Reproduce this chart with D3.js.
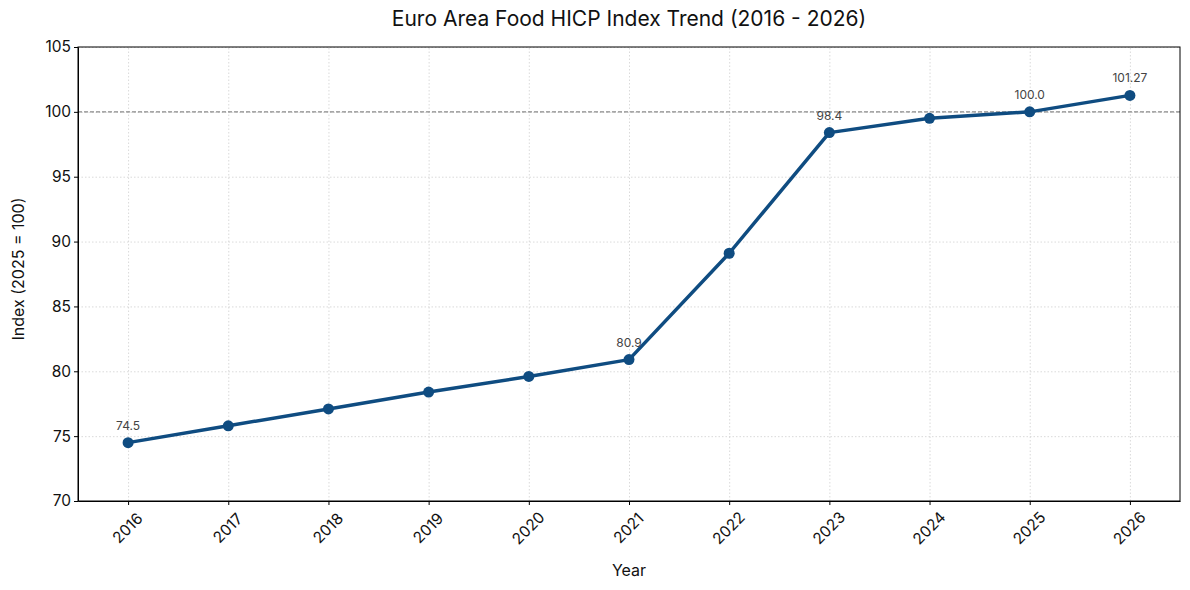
<!DOCTYPE html>
<html lang="en">
<head>
    <meta charset="UTF-8">
    <title>Euro Area Food HICP Index Trend</title>
    <script src="https://d3js.org/d3.v7.min.js"></script>
    <style>
        body { margin: 0; background: white; overflow: hidden; }
        svg { display: block; }
        svg text { font-family: Inter, "Noto Sans", sans-serif; }
        .grid line { stroke: #d0d0d0; stroke-dasharray: 1.5,2; stroke-width: 0.8; }
        .grid .domain { display: none; }
    </style>
</head>
<body>
    <div id="chart"></div>
    <script>
        // Data
        const years = [2016, 2017, 2018, 2019, 2020, 2021, 2022, 2023, 2024, 2025, 2026];
        const indexValues = [74.5, 75.8, 77.1, 78.4, 79.6, 80.9, 89.1, 98.4, 99.5, 100.0, 101.27];
        const labelledYears = [2016, 2021, 2023, 2025, 2026];
        const labelTexts = ['74.5', '80.9', '98.4', '100.0', '101.27'];
        const yTicks = [70, 75, 80, 85, 90, 95, 100, 105];

        const width = 1190, height = 590;
        const margin = {top: 47, right: 10, bottom: 89, left: 78};
        const innerWidth = width - margin.left - margin.right;
        const innerHeight = height - margin.top - margin.bottom;

        const data = years.map((y, i) => ({year: y, value: indexValues[i]}));

        const svg = d3.select('#chart')
            .append('svg')
            .attr('width', width)
            .attr('height', height);

        const x = d3.scaleLinear()
            .domain([2015.5, 2026.5])
            .range([0, innerWidth]);

        const y = d3.scaleLinear()
            .domain([70, 105])
            .range([innerHeight, 0]);

        const g = svg.append('g')
            .attr('transform', `translate(${margin.left},${margin.top})`);

        // grid
        g.append('g')
            .attr('class', 'grid')
            .attr('transform', `translate(0,${innerHeight})`)
            .call(d3.axisBottom(x).tickValues(years).tickSize(-innerHeight).tickFormat(''));
        g.append('g')
            .attr('class', 'grid')
            .call(d3.axisLeft(y).tickValues(yTicks).tickSize(-innerWidth).tickFormat(''));

        // reference line at 100
        g.append('line')
            .attr('x1', 0).attr('x2', innerWidth)
            .attr('y1', y(100)).attr('y2', y(100))
            .attr('stroke', '#8a8a8a')
            .attr('stroke-width', 1.1)
            .attr('stroke-dasharray', '4,2');

        // axes
        const xAxis = g.append('g')
            .attr('transform', `translate(0,${innerHeight})`)
            .call(d3.axisBottom(x).tickValues(years).tickFormat(d3.format('d')).tickSize(4).tickSizeOuter(0));
        xAxis.selectAll('text')
            .style('font-size', '15.5px')
            .attr('fill', '#111')
            .attr('text-anchor', 'middle')
            .attr('y', 0)
            .attr('dy', '0.35em')
            .attr('transform', 'translate(-1,27) rotate(-45)');

        const yAxis = g.append('g')
            .call(d3.axisLeft(y).tickValues(yTicks).tickSize(4).tickSizeOuter(0));
        yAxis.selectAll('text')
            .style('font-size', '15.5px')
            .attr('fill', '#111');

        // frame
        g.append('rect')
            .attr('width', innerWidth)
            .attr('height', innerHeight)
            .attr('fill', 'none')
            .attr('stroke', '#000')
            .attr('stroke-width', 1);

        // line
        const line = d3.line()
            .x(d => x(d.year))
            .y(d => y(d.value));

        g.append('path')
            .datum(data)
            .attr('fill', 'none')
            .attr('stroke', '#0f4c81')
            .attr('stroke-width', 3.5)
            .attr('stroke-linejoin', 'round')
            .attr('d', line);

        g.selectAll('.dot')
            .data(data)
            .enter().append('circle')
            .attr('cx', d => x(d.year))
            .attr('cy', d => y(d.value))
            .attr('r', 5.5)
            .attr('fill', '#0f4c81');

        // value labels
        g.selectAll('.val')
            .data(labelledYears)
            .enter().append('text')
            .attr('x', d => x(d))
            .attr('y', d => y(indexValues[years.indexOf(d)]) - 13)
            .attr('text-anchor', 'middle')
            .style('font-size', '12px')
            .attr('fill', '#444')
            .text((d, i) => labelTexts[i]);

        // titles
        svg.append('text')
            .attr('x', margin.left + innerWidth / 2)
            .attr('y', 26)
            .attr('text-anchor', 'middle')
            .style('font-size', '21px')
            .attr('fill', '#111')
            .text('Euro Area Food HICP Index Trend (2016 - 2026)');

        svg.append('text')
            .attr('x', margin.left + innerWidth / 2)
            .attr('y', 576)
            .attr('text-anchor', 'middle')
            .style('font-size', '16px')
            .attr('fill', '#111')
            .text('Year');

        svg.append('text')
            .attr('transform', `translate(24,${margin.top + innerHeight / 2 - 5}) rotate(-90)`)
            .attr('text-anchor', 'middle')
            .style('font-size', '16px')
            .attr('fill', '#111')
            .text('Index (2025 = 100)');
    </script>
</body>
</html>
